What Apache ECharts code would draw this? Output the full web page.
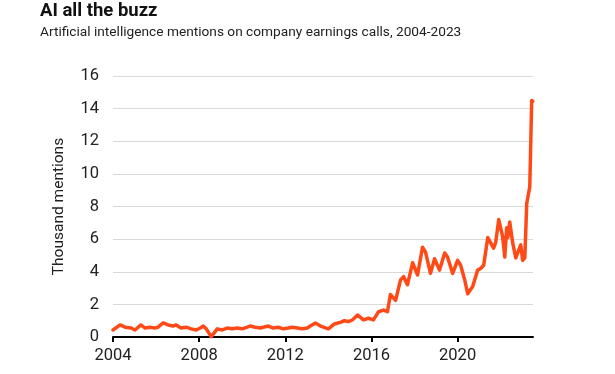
<!DOCTYPE html>
<html>
<head>
<meta charset="utf-8">
<script src="https://cdn.jsdelivr.net/npm/echarts@6/dist/echarts.min.js"></script>
<style>
html,body{margin:0;padding:0;background:#fff;}
#chart{width:615px;height:374px;}
</style>
</head>
<body>
<div id="chart"></div>
<script>
// Time position of each reading (decimal year) and value in thousand mentions
var years = [2004.00,2004.33,2004.56,2004.84,2005.02,2005.30,2005.49,2005.72,2005.95,2006.09,
  2006.33,2006.56,2006.79,2006.93,2007.16,2007.40,2007.63,2007.86,2008.05,2008.19,
  2008.33,2008.56,2008.84,2009.07,2009.30,2009.53,2009.77,2010.00,2010.23,2010.37,
  2010.60,2010.84,2010.98,2011.21,2011.44,2011.67,2011.91,2012.14,2012.33,2012.56,
  2012.79,2013.02,2013.16,2013.40,2013.67,2014.00,2014.28,2014.56,2014.74,2014.93,
  2015.12,2015.35,2015.49,2015.63,2015.86,2016.09,2016.33,2016.56,2016.74,2016.88,
  2017.12,2017.35,2017.49,2017.67,2017.91,2018.14,2018.37,2018.51,2018.74,2018.93,
  2019.16,2019.40,2019.53,2019.77,2020.00,2020.14,2020.33,2020.47,2020.70,2020.93,
  2021.07,2021.21,2021.40,2021.67,2021.77,2021.91,2022.09,2022.19,2022.28,2022.33,
  2022.42,2022.56,2022.70,2022.79,2022.93,2023.02,2023.12,2023.21,2023.35,2023.44,
  2023.49];
var mentions = [0.43,0.74,0.60,0.55,0.43,0.74,0.55,0.60,0.55,0.60,
  0.86,0.74,0.67,0.74,0.55,0.60,0.50,0.43,0.55,0.67,
  0.50,0.02,0.50,0.43,0.55,0.50,0.55,0.50,0.60,0.67,
  0.60,0.55,0.60,0.67,0.55,0.60,0.50,0.55,0.60,0.55,
  0.50,0.55,0.67,0.86,0.65,0.50,0.80,0.90,1.00,0.95,
  1.05,1.35,1.20,1.05,1.15,1.05,1.55,1.65,1.55,2.60,
  2.25,3.50,3.70,3.20,4.55,3.80,5.50,5.20,3.90,4.80,
  4.10,5.15,4.90,3.90,4.70,4.40,3.50,2.65,3.10,4.10,
  4.20,4.40,6.10,5.45,5.80,7.20,6.15,4.90,6.70,6.10,
  7.05,5.75,4.85,4.90,5.65,4.70,4.85,8.20,9.20,14.50,
  14.45];
var xTicks = [2004, 2008, 2012, 2016, 2020];
var yTicks = [0, 2, 4, 6, 8, 10, 12, 14, 16];

var FONT = 'Roboto';
var pts = years.map(function (y, i) { return [y, mentions[i]]; });
var chart = echarts.init(document.getElementById('chart'), null, {renderer: 'canvas'});
chart.setOption({
  animation: false,
  backgroundColor: '#fff',
  title: {
    text: 'AI all the buzz',
    subtext: 'Artificial intelligence mentions on company earnings calls, 2004-2023',
    left: 35, top: -3,
    itemGap: 5,
    textStyle: {fontFamily: FONT, fontSize: 18.5, fontWeight: 'bold', color: '#111'},
    subtextStyle: {fontFamily: FONT, fontSize: 13.7, color: '#222'}
  },
  grid: {left: 113, right: 82, top: 76, bottom: 37, containLabel: false},
  xAxis: {
    type: 'value', min: 2004, max: 2023.5,
    splitLine: {show: false},
    axisLine: {show: true, onZero: false, lineStyle: {color: '#000', width: 2}},
    axisTick: {show: true, length: 5, lineStyle: {color: '#000', width: 2}, customValues: xTicks},
    axisLabel: {customValues: xTicks, margin: 10, fontFamily: FONT, fontSize: 16.5, color: '#222',
      formatter: function (v) { return String(Math.round(v)); }}
  },
  yAxis: {
    type: 'value', min: yTicks[0], max: yTicks[yTicks.length - 1], interval: 2,
    name: 'Thousand mentions', nameLocation: 'middle', nameGap: 46, nameRotate: 90,
    nameTextStyle: {fontFamily: FONT, fontSize: 15.5, color: '#222'},
    axisLine: {show: false}, axisTick: {show: false},
    axisLabel: {margin: 14, fontFamily: FONT, fontSize: 16.5, color: '#222'},
    splitLine: {show: true, lineStyle: {color: '#d9d9d9', width: 1}}
  },
  series: [{
    type: 'line', data: pts, showSymbol: false, symbol: 'none',
    lineStyle: {color: '#FF4A17', width: 3.5, join: 'round', cap: 'round'},
    z: 3
  }]
});
</script>
</body>
</html>
